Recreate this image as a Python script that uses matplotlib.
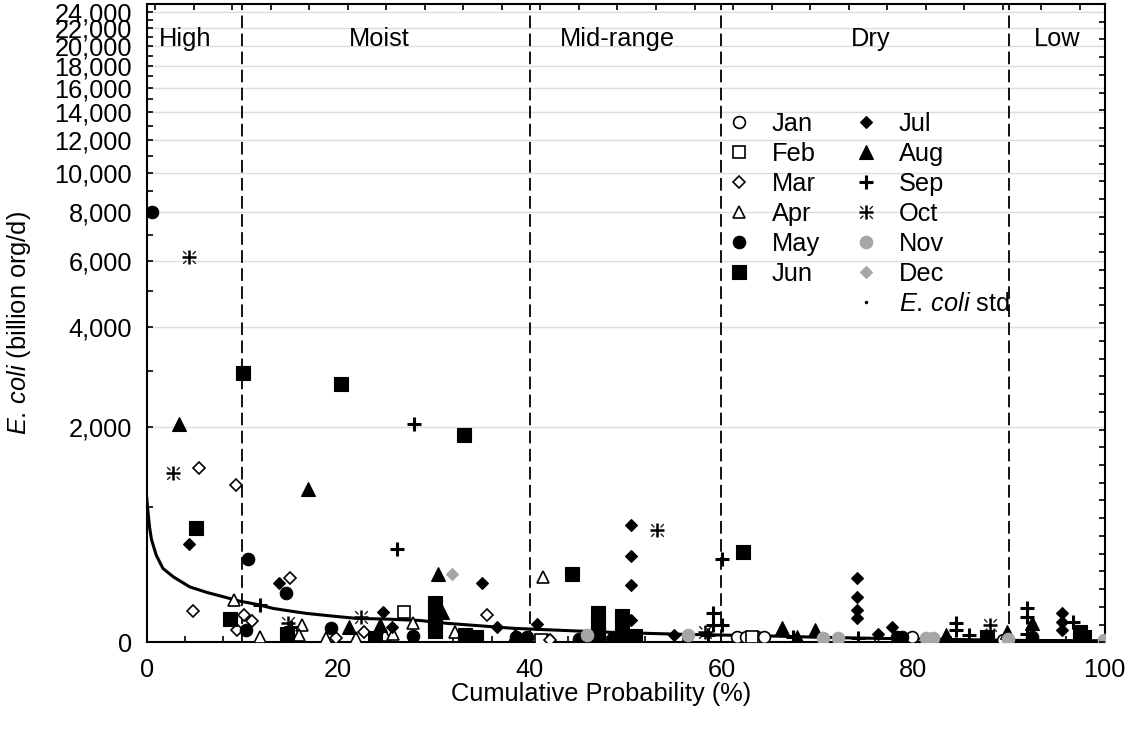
import numpy as np
import matplotlib
matplotlib.use("Agg")
import matplotlib.pyplot as plt
from matplotlib.path import Path
from matplotlib.lines import Line2D
from matplotlib.ticker import FixedLocator, FuncFormatter, NullFormatter

plt.rcParams['font.family'] = ['Liberation Sans', 'DejaVu Sans']
plt.rcParams['mathtext.fontset'] = 'custom'
plt.rcParams['mathtext.rm'] = 'Liberation Sans'
plt.rcParams['mathtext.it'] = 'Liberation Sans:italic'

FS = 18.3
ECOLI = r'$\mathit{E.\,coli}$'

# ---------------- flow zones ----------------
zone_edges = [10, 40, 60, 90]
zone_names = ["High", "Moist", "Mid-range", "Dry", "Low"]
zone_label_x = [4.0, 24.3, 49.1, 75.6, 95.0]

# ---------------- E. coli standard load curve ----------------
std_pct = [0.0, 0.1, 0.3, 0.5, 1.0, 1.7, 2.8, 4.5, 6.3, 8.0, 9.7, 11.5, 13.2, 15.0,
           16.7, 18.4, 20.2, 21.9, 25.0, 28.5, 31.3, 34.8, 38.3, 42.4, 45.2, 48.7,
           52.2, 56.4, 59.8, 65.1, 70.3, 75.5, 81.4, 90.1, 100.0]
std_val = [1100, 980, 800, 690, 560, 458, 396, 327, 290, 262, 234, 214, 189, 173,
           159, 149, 139, 130, 126, 118, 102, 88, 74, 65, 59, 52,
           47, 41, 38, 33, 26, 21, 17, 10, 8]

# ---------------- monthly observed loads ----------------
jan_pct = [41.9, 61.6, 62.6, 63.7, 64.4, 79.9, 89.4]
jan_val = [12, 29, 29, 29, 29, 29, 12]

feb_pct = [26.9, 41.2, 63.2]
feb_val = [165, 12, 25]

mar_pct = [5.45, 9.3, 4.8, 10.2, 11.0, 9.4, 15.0, 19.8, 22.7, 35.5, 42.1]
mar_val = [1434, 1232, 175, 149, 115, 64, 386, 20, 55, 149, 12]

apr_pct = [9.1, 11.8, 16.2, 15.9, 18.7, 21.8, 24.9, 25.7, 27.8, 32.2, 41.4]
apr_val = [240, 29, 92, 38, 20, 20, 38, 46, 101, 55, 397]

may_pct = [0.55, 10.6, 14.5, 10.4, 19.2, 27.8, 38.6, 39.7, 45.1, 48.7, 49.4,
           78.3, 78.8, 92.4]
may_val = [8000, 529, 284, 64, 77, 32, 29, 29, 17, 20, 20, 29, 29, 29]

jun_pct = [10.05, 20.3, 33.1, 5.15, 8.7, 14.6, 23.8, 30.1, 30.1, 30.1, 30.1,
           33.2, 34.4, 44.4, 47.1, 47.1, 47.1, 49.6, 49.6, 49.6, 51.0, 62.2,
           87.7, 97.4, 97.8]
jun_val = [2963, 2747, 1889, 793, 126, 46, 24, 222, 161, 109, 59,
           38, 29, 421, 161, 104, 48, 143, 87, 38, 32, 582,
           29, 55, 29]

jul_pct = [4.4, 13.8, 24.7, 25.6, 35.0, 36.6, 40.7, 50.6, 50.6, 50.6, 50.6,
           55.0, 74.1, 74.1, 74.1, 74.1, 76.3, 77.8, 95.6, 95.6, 95.6]
jul_val = [656, 351, 166, 83, 351, 80, 97, 824, 555, 337, 120,
           38, 390, 262, 179, 130, 46, 83, 159, 111, 65]

aug_pct = [3.4, 16.8, 30.4, 30.8, 21.1, 24.4, 38.4, 66.3, 67.9, 69.8, 83.4,
           89.8, 92.4]
aug_val = [2050, 1191, 421, 169, 83, 95, 38, 74, 29, 65, 38, 55, 106]

sep_pct = [27.9, 26.1, 11.8, 15.1, 59.1, 59.1, 60.1, 60.1, 58.6, 67.5, 74.3,
           84.5, 84.5, 85.8, 91.9, 91.9, 91.9, 96.7]
sep_val = [2056, 609, 209, 83, 159, 92, 92, 529, 38, 29, 20,
           101, 65, 38, 189, 139, 46, 111]

oct_pct = [4.4, 2.75, 14.8, 22.4, 53.3, 58.3, 88.0]
oct_val = [6150, 1373, 101, 136, 772, 55, 92]

nov_pct = [46.0, 56.5, 70.6, 72.2, 81.4, 82.1, 89.9, 99.9]
nov_val = [38, 38, 20, 20, 20, 20, 15, 12]

dec_pct = [31.9]
dec_val = [421]

# y tick values
y_major = list(range(0, 24001, 2000))
y_minor = list(range(1000, 24001, 2000))

GRAY = '#a6a6a6'

# asterisk marker pieces for October
plus_path = Path([(0, -1), (0, 1), (-1, 0), (1, 0)],
                 [Path.MOVETO, Path.LINETO, Path.MOVETO, Path.LINETO])
diag_path = Path([(0.45, 0.45), (0.9, 0.9), (-0.45, 0.45), (-0.9, 0.9),
                  (0.45, -0.45), (0.9, -0.9), (-0.45, -0.45), (-0.9, -0.9),
                  (-1, -1), (-1, -1), (1, 1), (1, 1)],
                 [Path.MOVETO, Path.LINETO] * 6)

styles = {
    'Jan': dict(marker='o', ms=8.5, mfc='white', mec='black', mew=1.2),
    'Feb': dict(marker='s', ms=9.0, mfc='white', mec='black', mew=1.2),
    'Mar': dict(marker='D', ms=6.3, mfc='white', mec='black', mew=1.2),
    'Apr': dict(marker='^', ms=9.0, mfc='white', mec='black', mew=1.2),
    'May': dict(marker='o', ms=9.0, mfc='black', mec='black', mew=0.8),
    'Jun': dict(marker='s', ms=9.5, mfc='black', mec='black', mew=0.8),
    'Jul': dict(marker='D', ms=6.5, mfc='black', mec='black', mew=0.8),
    'Aug': dict(marker='^', ms=9.5, mfc='black', mec='black', mew=0.8),
    'Sep': dict(marker='+', ms=10.5, mfc='black', mec='black', mew=2.2),
    'Nov': dict(marker='o', ms=9.0, mfc=GRAY, mec=GRAY, mew=0.8),
    'Dec': dict(marker='D', ms=6.5, mfc=GRAY, mec=GRAY, mew=0.8),
}
oct_plus = dict(marker=plus_path, ms=10, mfc='none', mec='black', mew=1.8)
oct_diag = dict(marker=diag_path, ms=10, mfc='none', mec='black', mew=0.9)

series = [
    ('Jan', jan_pct, jan_val), ('Feb', feb_pct, feb_val),
    ('Mar', mar_pct, mar_val), ('Apr', apr_pct, apr_val),
    ('May', may_pct, may_val), ('Aug', aug_pct, aug_val),
    ('Jun', jun_pct, jun_val), ('Jul', jul_pct, jul_val),
    ('Sep', sep_pct, sep_val), ('Nov', nov_pct, nov_val),
    ('Dec', dec_pct, dec_val),
]

fig = plt.figure(figsize=(11.31, 7.29), dpi=100)
ax = fig.add_axes([0.1297, 0.1189, 0.8470, 0.8752])


def fwd(y):
    return np.log1p(np.clip(np.asarray(y, dtype=float), -999.0, None) / 1000.0)


def inv(t):
    return 1000.0 * np.expm1(t)


ax.set_yscale('function', functions=(fwd, inv))
ax.set_xlim(0, 100)
ax.set_ylim(0, 25000)

# standard curve
ax.plot(std_pct, std_val, color='black', lw=2.2, zorder=3,
        solid_capstyle='butt')

for name, xs, ys in series:
    ax.plot(xs, ys, ls='none', zorder=4, **styles[name])
ax.plot(oct_pct, oct_val, ls='none', zorder=4, **oct_plus)
ax.plot(oct_pct, oct_val, ls='none', zorder=4, **oct_diag)

# zone boundaries and names
for xe in zone_edges:
    ax.axvline(xe, color='black', lw=1.3, ls=(0, (7.0, 3.0)), zorder=2)
for name, xl in zip(zone_names, zone_label_x):
    ax.text(xl, 0.945, name, transform=ax.get_xaxis_transform(),
            ha='center', va='center', fontsize=FS)

# axes formatting
ax.yaxis.set_major_locator(FixedLocator(y_major))
ax.yaxis.set_minor_locator(FixedLocator(y_minor))
ax.yaxis.set_major_formatter(FuncFormatter(lambda v, p: f"{int(round(v)):,}"))
ax.yaxis.set_minor_formatter(NullFormatter())
ax.xaxis.set_major_locator(FixedLocator([0, 20, 40, 60, 80, 100]))
ax.xaxis.set_minor_locator(FixedLocator([v for v in range(0, 101, 4) if v % 20]))
ax.tick_params(axis='both', which='both', direction='in', length=4.5, width=1.2,
               top=False, right=False, labelsize=FS)
ax.tick_params(axis='y', pad=10.5)
ax.tick_params(axis='x', pad=11.5)
ax.yaxis.grid(True, which='major', color='#dddddd', lw=1.0)
ax.set_axisbelow(True)
for sp in ax.spines.values():
    sp.set_linewidth(1.5)

ax.set_xlabel('Cumulative Probability (%)', fontsize=FS)
ax.xaxis.set_label_coords(0.474, -0.062)
ax.set_ylabel(ECOLI + ' (billion org/d)', fontsize=FS)
ax.yaxis.set_label_coords(-0.119, 0.5)

# plain tick marks along the top and right frame
ax_top = ax.twiny()
ax_top.set_xlim(0, 100)
ax_top.set_xticks(np.arange(0.87, 100, 4.023))
ax_top.tick_params(axis='x', direction='in', length=4.5, width=1.2,
                   labeltop=False)
ax_right = ax.twinx()
ax_right.set_ylim(0, 35.98)
ax_right.set_yticks(np.arange(0, 36))
ax_right.tick_params(axis='y', direction='in', length=4.5, width=1.2,
                     labelright=False)
for a in (ax_top, ax_right):
    for sp in a.spines.values():
        sp.set_visible(False)

# legend
def proxy(st):
    return Line2D([], [], ls='none', **st)

blank = Line2D([], [], ls='none', marker='none')
handles = [proxy(styles[m]) for m in ['Jan', 'Feb', 'Mar', 'Apr', 'May', 'Jun']]
handles.append(blank)
handles += [proxy(styles['Jul']), proxy(styles['Aug']), proxy(styles['Sep']),
            (proxy(oct_plus), proxy(oct_diag)),
            proxy(styles['Nov']), proxy(styles['Dec']),
            Line2D([], [], ls='none', marker='.', ms=3, color='black')]
labels = ['Jan', 'Feb', 'Mar', 'Apr', 'May', 'Jun', '',
          'Jul', 'Aug', 'Sep', 'Oct', 'Nov', 'Dec',
          ECOLI + ' std']
ax.legend(handles, labels, ncol=2, loc='upper left',
          bbox_to_anchor=(0.6053, 0.8317), frameon=False, fontsize=FS,
          handlelength=1.0, handletextpad=0.78, columnspacing=1.31,
          labelspacing=0.24, borderpad=0, borderaxespad=0)

fig.savefig('out.png', dpi=100)
